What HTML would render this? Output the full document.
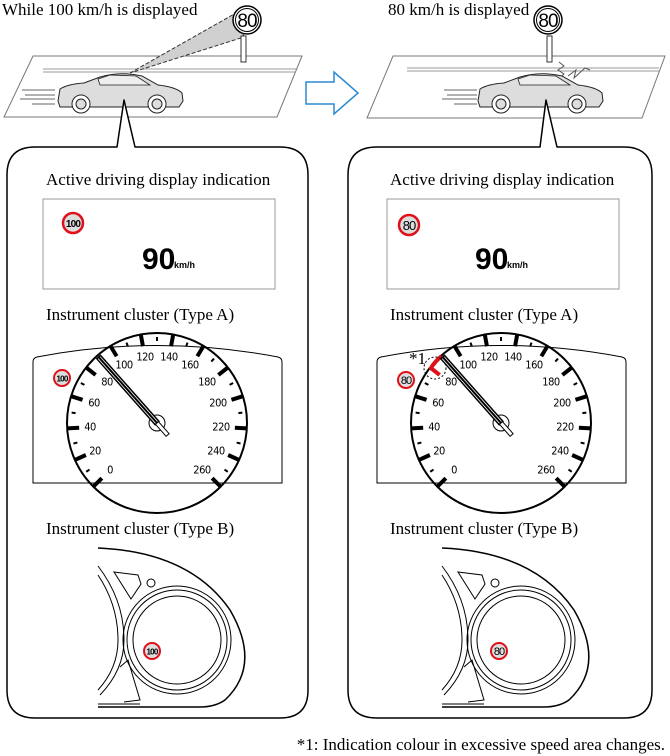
<!DOCTYPE html>
<html><head><meta charset="utf-8"><style>
html,body{margin:0;padding:0;background:#fff;}
svg{display:block;}
.s{font-family:"Liberation Serif",serif;font-size:17px;fill:#000;}
.g{font-family:"DejaVu Sans Condensed","Liberation Sans",sans-serif;font-size:11px;fill:#000;letter-spacing:-0.5px;}
</style></head><body>
<svg width="670" height="756" viewBox="0 0 670 756" xmlns="http://www.w3.org/2000/svg">
<!-- ===== TOP LEFT ===== -->
<text class="s" x="2" y="15" font-size="19">While 100 km/h is displayed</text>
<polygon points="33,56 302,56 277,117 4,117" fill="#fff" stroke="#777" stroke-width="1"/>
<line x1="43" y1="69" x2="296" y2="69" stroke="#999" stroke-width="1"/>
<line x1="43" y1="72" x2="296" y2="72" stroke="#999" stroke-width="1"/>
<polygon points="130,73 236,13 244,37" fill="#d0d0d0" stroke="#333" stroke-width="1" stroke-dasharray="4,2"/>
<rect x="241" y="36" width="5" height="26" fill="#fff" stroke="#333"/>
<circle cx="247" cy="20" r="14" fill="#fff" stroke="#000" stroke-width="1.5"/>
<circle cx="247" cy="20" r="11.5" fill="#fff" stroke="#000" stroke-width="1"/>
<text x="247" y="27" text-anchor="middle" font-family="Liberation Sans,sans-serif" font-size="19" letter-spacing="-1">80</text>
<g stroke="#666" stroke-width="1">
<line x1="22" y1="90" x2="55" y2="90"/><line x1="25" y1="95" x2="55" y2="95"/><line x1="20" y1="99" x2="55" y2="99"/><line x1="32" y1="104" x2="55" y2="104"/></g>
<path d="M58,101 L60,89 Q68,84 84,83 L100,77 Q120,71 142,76 L158,85 Q176,87 182,93 L183,101 L179,107 L60,107 Z" fill="#ddd" stroke="#222" stroke-width="1"/>
<path d="M98,79 L110,75 L136,76 L150,85 L100,85 Z" fill="#eee" stroke="#222" stroke-width="0.8"/>
<circle cx="81" cy="104" r="9" fill="#fff" stroke="#222"/><circle cx="81" cy="104" r="5" fill="#ddd" stroke="#222"/>
<circle cx="157" cy="104" r="9" fill="#fff" stroke="#222"/><circle cx="157" cy="104" r="5" fill="#ddd" stroke="#222"/>
<!-- arrow -->
<path d="M306,82 L334,82 L334,72 L358,93 L334,114 L334,104 L306,104 Z" fill="#fff" stroke="#2a8ad0" stroke-width="1.5"/>
<!-- ===== TOP RIGHT ===== -->
<text class="s" x="388" y="15" font-size="19">80 km/h is displayed</text>
<polygon points="393,56 665,56 642,118 367,118" fill="#fff" stroke="#777" stroke-width="1"/>
<line x1="407" y1="68" x2="659" y2="68" stroke="#999"/><line x1="407" y1="71" x2="659" y2="71" stroke="#999"/>
<rect x="547" y="36" width="5" height="26" fill="#fff" stroke="#333"/>
<circle cx="548" cy="20" r="14" fill="#fff" stroke="#000" stroke-width="1.5"/>
<circle cx="548" cy="20" r="11.5" fill="#fff" stroke="#000" stroke-width="1"/>
<text x="548" y="27" text-anchor="middle" font-family="Liberation Sans,sans-serif" font-size="19" letter-spacing="-1">80</text>
<path d="M559,62 L564,66 L558,70 L564,74 L558,80" fill="none" stroke="#555"/>
<path d="M568,76 L576,70 L574,78 L585,68 L590,70" fill="none" stroke="#555"/>
<g stroke="#666"><line x1="444" y1="90" x2="477" y2="90"/><line x1="447" y1="95" x2="477" y2="95"/><line x1="442" y1="99" x2="477" y2="99"/><line x1="454" y1="104" x2="477" y2="104"/></g>
<g transform="translate(420,0)">
<path d="M58,101 L60,89 Q68,84 84,83 L100,77 Q120,71 142,76 L158,85 Q176,87 182,93 L183,101 L179,107 L60,107 Z" fill="#ddd" stroke="#222"/>
<path d="M98,79 L110,75 L136,76 L150,85 L100,85 Z" fill="#eee" stroke="#222" stroke-width="0.8"/>
<circle cx="81" cy="104" r="9" fill="#fff" stroke="#222"/><circle cx="81" cy="104" r="5" fill="#ddd" stroke="#222"/>
<circle cx="157" cy="104" r="9" fill="#fff" stroke="#222"/><circle cx="157" cy="104" r="5" fill="#ddd" stroke="#222"/>
</g>
<!-- ===== BIG BOXES ===== -->
<path d="M117,147 L35,147 Q7,147 7,175 L7,690 Q7,718 35,718 L280,718 Q308,718 308,690 L308,175 Q308,147 280,147 L135,147 L124,100 Z" fill="#fff" stroke="#000" stroke-width="1.5" stroke-linejoin="round"/>
<path d="M540,147 L377,147 Q348,147 348,175 L348,690 Q348,718 377,718 L624,718 Q652,718 652,690 L652,175 Q652,147 624,147 L557,147 L546,100 Z" fill="#fff" stroke="#000" stroke-width="1.5" stroke-linejoin="round"/>

<!-- ===== LEFT PANEL CONTENT ===== -->
<text class="s" x="46" y="185">Active driving display indication</text>
<rect x="43" y="199" width="232" height="90" fill="#fff" stroke="#999" stroke-width="1"/>
<circle cx="73" cy="223" r="10" fill="#ddd" stroke="#e0101a" stroke-width="2.5"/>
<text x="73" y="227" text-anchor="middle" font-family="Liberation Sans,sans-serif" font-size="10" font-weight="bold" letter-spacing="-0.8">100</text>
<text x="142" y="269" font-family="Liberation Sans,sans-serif" font-size="30" font-weight="bold">90</text>
<text x="174" y="268" font-family="Liberation Sans,sans-serif" font-size="9" font-weight="bold">km/h</text>
<text class="s" x="46" y="320">Instrument cluster (Type A)</text>

<path d="M33,483 L33,362 Q33,358 37,357 Q157,334 278,357 Q282,358 282,362 L282,483 Z" fill="#fff" stroke="#000" stroke-width="1"/>
<circle cx="62" cy="378" r="8" fill="#ddd" stroke="#e0101a" stroke-width="2"/>
<text x="62" y="381.5" text-anchor="middle" font-family="Liberation Sans,sans-serif" font-size="8" font-weight="bold" letter-spacing="-0.8">100</text>
<g transform="translate(157,423)">
<circle r="90" fill="none" stroke="#000" stroke-width="2"/>
<g stroke="#000" stroke-width="4">
<line y1="-90" y2="-78" transform="rotate(-135)"/><line y1="-90" y2="-78" transform="rotate(-114.23)"/><line y1="-90" y2="-78" transform="rotate(-93.46)"/><line y1="-90" y2="-78" transform="rotate(-72.69)"/><line y1="-90" y2="-78" transform="rotate(-51.92)"/><line y1="-90" y2="-78" transform="rotate(-31.15)"/><line y1="-90" y2="-78" transform="rotate(-10.38)"/><line y1="-90" y2="-78" transform="rotate(10.38)"/><line y1="-90" y2="-78" transform="rotate(31.15)"/><line y1="-90" y2="-78" transform="rotate(51.92)"/><line y1="-90" y2="-78" transform="rotate(72.69)"/><line y1="-90" y2="-78" transform="rotate(93.46)"/><line y1="-90" y2="-78" transform="rotate(114.23)"/><line y1="-90" y2="-78" transform="rotate(135)"/></g>
<g stroke="#000" stroke-width="2">
<line y1="-86" y2="-82" transform="rotate(-124.6)"/><line y1="-86" y2="-82" transform="rotate(-103.8)"/><line y1="-86" y2="-82" transform="rotate(-83.1)"/><line y1="-86" y2="-82" transform="rotate(-62.3)"/><line y1="-86" y2="-82" transform="rotate(-41.5)"/><line y1="-86" y2="-82" transform="rotate(-20.8)"/><line y1="-86" y2="-82" transform="rotate(0)"/><line y1="-86" y2="-82" transform="rotate(20.8)"/><line y1="-86" y2="-82" transform="rotate(41.5)"/><line y1="-86" y2="-82" transform="rotate(62.3)"/><line y1="-86" y2="-82" transform="rotate(83.1)"/><line y1="-86" y2="-82" transform="rotate(103.8)"/><line y1="-86" y2="-82" transform="rotate(124.6)"/></g>
<g class="g" text-anchor="middle" dominant-baseline="central">
<text x="-47" y="47">0</text><text x="-62" y="28">20</text><text x="-67" y="4">40</text><text x="-63" y="-20">60</text><text x="-50" y="-41">80</text><text x="-33" y="-58">100</text><text x="-12" y="-66">120</text><text x="12" y="-66">140</text><text x="33" y="-58">160</text><text x="50" y="-41">180</text><text x="61" y="-20">200</text><text x="64" y="4">220</text><text x="59" y="28">240</text><text x="45" y="47">260</text></g>
<circle r="8" fill="none" stroke="#000" stroke-width="1"/>
<g transform="rotate(-41.5)"><rect x="-2.5" y="-88" width="5" height="88" fill="#fff" stroke="#000" stroke-width="1.5"/><line y1="-88" y2="0" stroke="#000" stroke-width="2"/><rect x="-2" y="0" width="4" height="16" fill="#fff" stroke="#000"/></g>
</g>

<text class="s" x="46" y="534">Instrument cluster (Type B)</text>
<g fill="none" stroke="#000" stroke-width="1">
<path d="M98,548 Q190,552 230,610 Q262,665 225,700 Q215,707 200,707 L98,707" stroke-width="1.5"/>
<line x1="98" y1="704" x2="140" y2="704"/>
<path d="M98,566 Q124,600 124,640 Q124,670 100,695"/><path d="M98,575 Q118,605 118,640 Q118,668 98,690"/>
<path d="M114,572 L138,575 L141,584 L131,599 Z"/>
<circle cx="151" cy="583" r="4"/>
<circle cx="177" cy="640" r="54"/><circle cx="177" cy="640" r="50"/><circle cx="177" cy="640" r="44"/>
<path d="M120,667 L128,660 L140,700 L124,702"/>
</g>
<circle cx="152" cy="651" r="8" fill="#ddd" stroke="#e0101a" stroke-width="2"/>
<text x="152" y="654.5" text-anchor="middle" font-family="Liberation Sans,sans-serif" font-size="8" font-weight="bold" letter-spacing="-0.8">100</text>

<!-- ===== RIGHT PANEL CONTENT ===== -->
<text class="s" x="390" y="185">Active driving display indication</text>
<rect x="387" y="199" width="232" height="90" fill="#fff" stroke="#999" stroke-width="1"/>
<circle cx="409" cy="225" r="10" fill="#ddd" stroke="#e0101a" stroke-width="2.5"/>
<text x="409" y="230" text-anchor="middle" font-family="Liberation Sans,sans-serif" font-size="13" letter-spacing="-1">80</text>
<text x="475" y="269" font-family="Liberation Sans,sans-serif" font-size="30" font-weight="bold">90</text>
<text x="507" y="268" font-family="Liberation Sans,sans-serif" font-size="9" font-weight="bold">km/h</text>
<text class="s" x="390" y="320">Instrument cluster (Type A)</text>

<path d="M377,483 L377,362 Q377,358 381,357 Q501,334 622,357 Q626,358 626,362 L626,483 Z" fill="#fff" stroke="#000" stroke-width="1"/>
<circle cx="406" cy="380" r="8" fill="#ddd" stroke="#e0101a" stroke-width="2"/>
<text x="406" y="384" text-anchor="middle" font-family="Liberation Sans,sans-serif" font-size="11" letter-spacing="-1">80</text>
<text class="s" x="409" y="364" font-size="16">*1</text>
<g transform="translate(501,423)">
<circle r="90" fill="none" stroke="#000" stroke-width="2"/>
<g stroke="#000" stroke-width="4">
<line y1="-90" y2="-78" transform="rotate(-135)"/><line y1="-90" y2="-78" transform="rotate(-114.23)"/><line y1="-90" y2="-78" transform="rotate(-93.46)"/><line y1="-90" y2="-78" transform="rotate(-72.69)"/><line y1="-90" y2="-78" transform="rotate(-31.15)"/><line y1="-90" y2="-78" transform="rotate(-10.38)"/><line y1="-90" y2="-78" transform="rotate(10.38)"/><line y1="-90" y2="-78" transform="rotate(31.15)"/><line y1="-90" y2="-78" transform="rotate(51.92)"/><line y1="-90" y2="-78" transform="rotate(72.69)"/><line y1="-90" y2="-78" transform="rotate(93.46)"/><line y1="-90" y2="-78" transform="rotate(114.23)"/><line y1="-90" y2="-78" transform="rotate(135)"/></g>
<g stroke="#e0101a" stroke-width="4" fill="none"><path d="M0,-90 L0,-78" transform="rotate(-51.92)"/><path d="M-1,-89 Q8,-90 16,-88" transform="rotate(-51.92)"/></g>
<circle cx="-66" cy="-55" r="11" fill="none" stroke="#000" stroke-width="1" stroke-dasharray="2,2"/>
<g stroke="#000" stroke-width="2">
<line y1="-86" y2="-82" transform="rotate(-124.6)"/><line y1="-86" y2="-82" transform="rotate(-103.8)"/><line y1="-86" y2="-82" transform="rotate(-83.1)"/><line y1="-86" y2="-82" transform="rotate(-62.3)"/><line y1="-86" y2="-82" transform="rotate(-20.8)"/><line y1="-86" y2="-82" transform="rotate(0)"/><line y1="-86" y2="-82" transform="rotate(20.8)"/><line y1="-86" y2="-82" transform="rotate(41.5)"/><line y1="-86" y2="-82" transform="rotate(62.3)"/><line y1="-86" y2="-82" transform="rotate(83.1)"/><line y1="-86" y2="-82" transform="rotate(103.8)"/><line y1="-86" y2="-82" transform="rotate(124.6)"/></g>
<g class="g" text-anchor="middle" dominant-baseline="central">
<text x="-47" y="47">0</text><text x="-62" y="28">20</text><text x="-67" y="4">40</text><text x="-63" y="-20">60</text><text x="-50" y="-41">80</text><text x="-33" y="-58">100</text><text x="-12" y="-66">120</text><text x="12" y="-66">140</text><text x="33" y="-58">160</text><text x="50" y="-41">180</text><text x="61" y="-20">200</text><text x="64" y="4">220</text><text x="59" y="28">240</text><text x="45" y="47">260</text></g>
<circle r="8" fill="none" stroke="#000" stroke-width="1"/>
<g transform="rotate(-41.5)"><rect x="-2.5" y="-88" width="5" height="88" fill="#fff" stroke="#000" stroke-width="1.5"/><line y1="-88" y2="0" stroke="#000" stroke-width="2"/><rect x="-2" y="0" width="4" height="16" fill="#fff" stroke="#000"/></g>
</g>

<text class="s" x="390" y="534">Instrument cluster (Type B)</text>
<g transform="translate(344,0)">
<g fill="none" stroke="#000" stroke-width="1">
<path d="M98,548 Q190,552 230,610 Q262,665 225,700 Q215,707 200,707 L98,707" stroke-width="1.5"/>
<line x1="98" y1="704" x2="140" y2="704"/>
<path d="M98,566 Q124,600 124,640 Q124,670 100,695"/><path d="M98,575 Q118,605 118,640 Q118,668 98,690"/>
<path d="M114,572 L138,575 L141,584 L131,599 Z"/>
<circle cx="151" cy="583" r="4"/>
<circle cx="177" cy="640" r="54"/><circle cx="177" cy="640" r="50"/><circle cx="177" cy="640" r="44"/>
<path d="M120,667 L128,660 L140,700 L124,702"/>
</g>
<circle cx="155" cy="651" r="8" fill="#ddd" stroke="#e0101a" stroke-width="2"/>
<text x="155" y="655" text-anchor="middle" font-family="Liberation Sans,sans-serif" font-size="11" letter-spacing="-1">80</text>
</g>

<text class="s" x="665" y="750" text-anchor="end" font-size="16.5">*1: Indication colour in excessive speed area changes.</text>
</svg>
</body></html>
